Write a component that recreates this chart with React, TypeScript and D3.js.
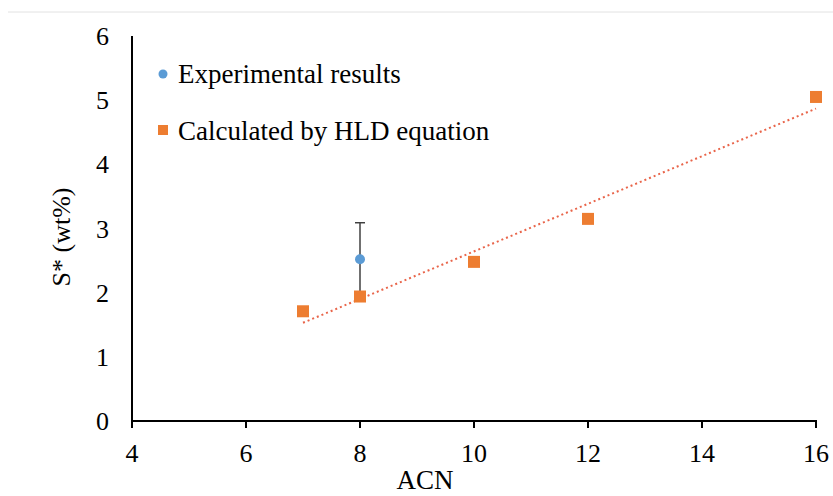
import React from "react";
import * as d3 from "d3";

const xTicks = [4, 6, 8, 10, 12, 14, 16];
const yTicks = [0, 1, 2, 3, 4, 5, 6];
const expX = [8];
const expY = [2.52];
const expErr = [0.57];
const calcX = [7, 8, 10, 12, 16];
const calcY = [1.71, 1.94, 2.48, 3.15, 5.05];
const legendLabels = ["Experimental results", "Calculated by HLD equation"];
const xTitle = "ACN";
const yTitle = "S* (wt%)";

const W = 833;
const H = 496;
const FONT = "'Liberation Serif', 'Times New Roman', serif";

export default function App() {
  const x = d3.scaleLinear().domain([4, 16]).range([132, 816]);
  const y = d3.scaleLinear().domain([0, 6]).range([421, 36]);

  // linear regression trendline on calculated points
  const mx = d3.mean(calcX) as number;
  const my = d3.mean(calcY) as number;
  let sxy = 0, sxx = 0;
  calcX.forEach((v, i) => {
    sxy += (v - mx) * (calcY[i] - my);
    sxx += (v - mx) * (v - mx);
  });
  const slope = sxy / sxx;
  const icpt = my - slope * mx;
  const x0 = d3.min(calcX) as number;
  const x1 = d3.max(calcX) as number;
  const trend = d3.line<number>().x((d) => x(d)).y((d) => y(icpt + slope * d))([x0, x1]) as string;

  const orange = "#ED7D31";
  const blue = "#5B9BD5";
  const sq = 12;

  return (
    <svg width={W} height={H} style={{ position: "absolute", left: 0, top: 0, background: "#fff" }}>
      <line x1={8} x2={W} y1={12} y2={12} stroke="#e2e2e2" strokeWidth={1} />
      {/* axes */}
      <line x1={x(4)} x2={x(4)} y1={y(6)} y2={y(0)} stroke="#000" strokeWidth={2} />
      <line x1={x(4) - 1} x2={x(16) + 1} y1={y(0)} y2={y(0)} stroke="#000" strokeWidth={2} />
      {xTicks.map((t) => (
        <g key={"xt" + t}>
          <line x1={x(t)} x2={x(t)} y1={y(0)} y2={y(0) + 7} stroke="#000" strokeWidth={2} />
          <text x={x(t)} y={462} textAnchor="middle" fontFamily={FONT} fontSize={26} fill="#000">
            {t}
          </text>
        </g>
      ))}
      {yTicks.map((t) => (
        <text key={"yt" + t} x={109} y={y(t) + 9} textAnchor="end" fontFamily={FONT} fontSize={26} fill="#000">
          {t}
        </text>
      ))}
      <text x={425} y={489} textAnchor="middle" fontFamily={FONT} fontSize={27} fill="#000">
        {xTitle}
      </text>
      <text
        transform={`translate(70,${237}) rotate(-90)`}
        textAnchor="middle"
        fontFamily={FONT}
        fontSize={26}
        fill="#000"
      >
        {yTitle}
      </text>

      {/* trendline */}
      <path d={trend} stroke="#E9654A" strokeWidth={2} strokeDasharray="2 3" fill="none" />

      {/* experimental with error bars */}
      {expX.map((v, i) => (
        <g key={"e" + i}>
          <line x1={x(v)} x2={x(v)} y1={y(expY[i] + expErr[i])} y2={y(expY[i] - expErr[i])} stroke="#404040" strokeWidth={1.5} />
          <line x1={x(v) - 5} x2={x(v) + 5} y1={y(expY[i] + expErr[i])} y2={y(expY[i] + expErr[i])} stroke="#404040" strokeWidth={1.5} />
          <line x1={x(v) - 5} x2={x(v) + 5} y1={y(expY[i] - expErr[i])} y2={y(expY[i] - expErr[i])} stroke="#404040" strokeWidth={1.5} />
          <circle cx={x(v)} cy={y(expY[i])} r={5} fill={blue} />
        </g>
      ))}

      {calcX.map((v, i) => (
        <rect key={"c" + i} x={x(v) - sq / 2} y={y(calcY[i]) - sq / 2} width={sq} height={sq} fill={orange} />
      ))}

      {/* legend */}
      <circle cx={163} cy={74} r={4.5} fill={blue} />
      <text x={178} y={83} fontFamily={FONT} fontSize={27} fill="#000">
        {legendLabels[0]}
      </text>
      <rect x={158} y={125} width={10} height={10} fill={orange} />
      <text x={178} y={140} fontFamily={FONT} fontSize={27} fill="#000">
        {legendLabels[1]}
      </text>
    </svg>
  );
}
